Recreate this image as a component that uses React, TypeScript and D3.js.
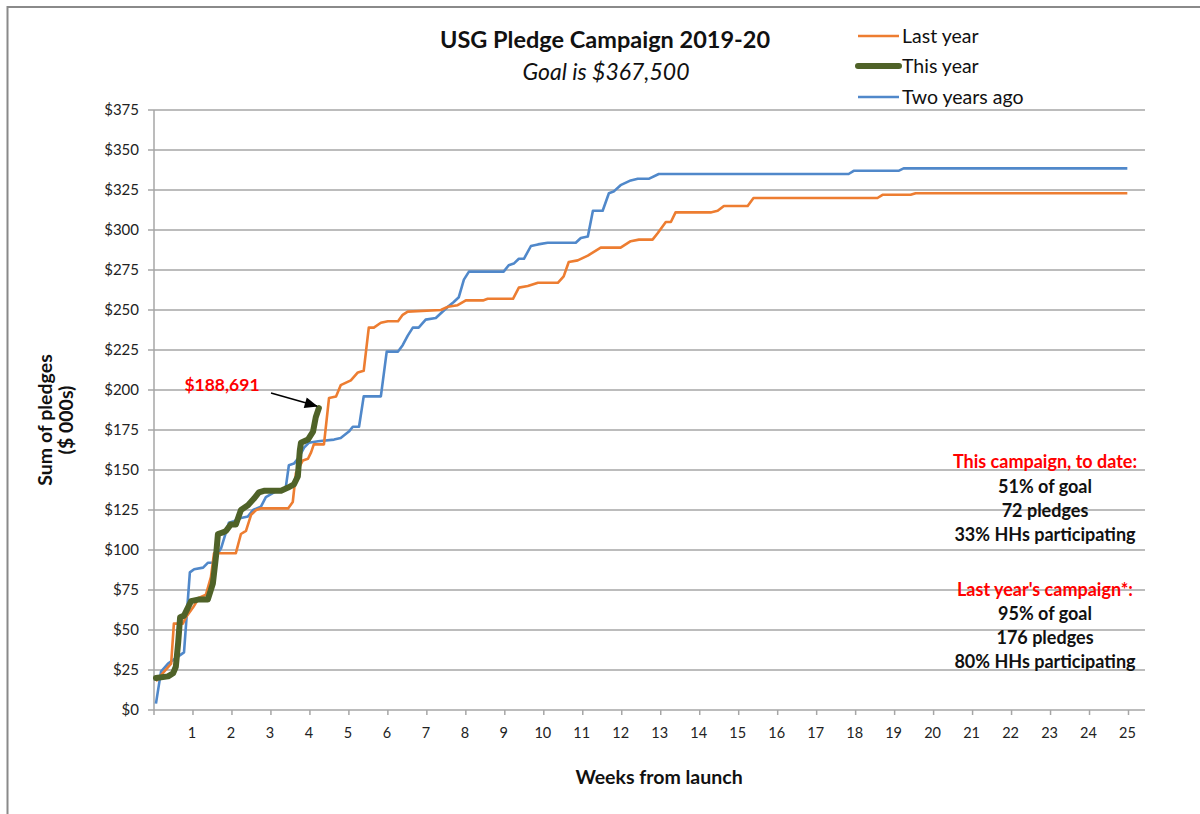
import React from "react";
import * as d3 from "d3";

// ---- Data (weeks from launch, $000s) ----
const lastYearWeeks = [0.05,0.26,0.44,0.51,0.74,0.82,1.0,1.15,1.33,1.46,1.54,2.1,2.23,2.36,2.49,2.62,2.74,3.44,3.56,3.64,3.82,3.95,4.03,4.1,4.36,4.49,4.67,4.79,5.05,5.23,5.38,5.51,5.64,5.82,6.0,6.26,6.38,6.51,7.36,7.54,7.79,8.0,8.44,8.56,9.21,9.36,9.59,9.85,10.36,10.51,10.64,10.87,11.13,11.46,11.97,12.23,12.44,12.79,12.92,13.13,13.26,13.38,14.28,14.46,14.62,15.23,15.38,18.56,18.69,19.41,19.54,24.97];
const lastYearValues = [18,24,29,54,54,58,64,70,72,83,98,98,110,112,122,125,126,126,130,148,156,157,161,166,166,195,196,203,206,211,212,239,239,242,243,243,247,249,250,252,253,256,256,257,257,264,265,267,267,271,280,281,284,289,289,293,294,294,298,305,305,311,311,312,315,315,320,320,322,322,323,323];

const thisYearWeeks = [0.05,0.36,0.49,0.56,0.62,0.67,0.77,0.87,0.95,1.13,1.38,1.51,1.59,1.64,1.77,1.85,1.97,2.1,2.23,2.41,2.56,2.69,2.82,3.26,3.44,3.59,3.69,3.74,3.77,3.95,4.08,4.15,4.23];
const thisYearValues = [20,21,23,27,42,58,59,64,68,69,69,79,96,110,111,112,116,116,125,128,132,136,137,137,139,141,146,162,167,169,174,183,188.691];

const twoYearsWeeks = [0.05,0.18,0.36,0.77,0.92,1.03,1.26,1.38,1.51,1.64,1.72,1.92,2.05,2.23,2.41,2.54,2.74,2.87,3.08,3.38,3.46,3.59,3.72,3.85,3.97,4.21,4.62,4.79,5.0,5.1,5.26,5.38,5.82,5.97,6.26,6.38,6.51,6.64,6.79,6.97,7.23,7.36,7.54,7.69,7.82,7.95,8.08,8.97,9.1,9.23,9.36,9.49,9.67,9.85,10.1,10.82,10.95,11.13,11.26,11.51,11.67,11.79,11.97,12.23,12.41,12.69,12.95,17.82,17.95,19.1,19.23,24.97];
const twoYearsValues = [4,24,29,36,86,88,89,92,92,98,101,117,118,120,121,125,127,133,136,139,153,154,158,164,167,168,169,170,174,177,177,196,196,224,224,228,234,239,239,244,245,248,252,255,258,269,274,274,278,279,282,282,290,291,292,292,295,296,312,312,323,324,328,331,332,332,335,335,337,337,338.5,338.5];

const yTicks = [0,25,50,75,100,125,150,175,200,225,250,275,300,325,350,375];
const xTicks = d3.range(0, 26);

const seriesNames = ["Last year", "This year", "Two years ago"];
const calloutLabel = "$188,691";
const thisCampaign = ["51% of goal", "72 pledges", "33% HHs participating"];
const lastCampaign = ["95% of goal", "176 pledges", "80% HHs participating"];

const FONT = "Lato, 'Open Sans', sans-serif";
const ORANGE = "#ED7D31";
const BLUE = "#5088CA";
const GREEN = "#4F6228";

export default function App() {
  const x = d3.scaleLinear().domain([0, 25]).range([154, 1128.5]);
  const y = d3.scaleLinear().domain([0, 375]).range([710, 110]);
  const xRight = 1145;

  const line = d3
    .line<[number, number]>()
    .x((d) => x(d[0]))
    .y((d) => y(d[1]));

  const zip = (a: number[], b: number[]) => a.map((w, i) => [w, b[i]] as [number, number]);
  const lastYear = zip(lastYearWeeks, lastYearValues);
  const thisYear = zip(thisYearWeeks, thisYearValues);
  const twoYears = zip(twoYearsWeeks, twoYearsValues);

  const endPt = thisYear[thisYear.length - 1];
  const ex = x(endPt[0]);
  const ey = y(endPt[1]);

  const legendY = [36, 66, 97];
  const legendColors = [ORANGE, GREEN, BLUE];
  const legendWidths = [2.5, 6, 2.5];

  return (
    <svg
      width={1200}
      height={814}
      style={{ position: "absolute", left: 0, top: 0, background: "#fff" }}
      fontFamily={FONT}
    >
      <defs>
        <marker id="arrowH" viewBox="0 0 12 10" refX="11" refY="5" markerWidth="14" markerHeight="11" orient="auto" markerUnits="userSpaceOnUse">
          <path d="M0,0 L12,5 L0,10 z" fill="#000" />
        </marker>
      </defs>
      {/* frame */}
      <path d="M7.5,814 L7.5,7 L1200,7" fill="none" stroke="#8a8a8a" strokeWidth={2} />

      {/* gridlines */}
      {yTicks.map((t) => (
        <line key={"g" + t} x1={x(0)} x2={xRight} y1={y(t)} y2={y(t)} stroke="#a6a6a6" strokeWidth={1.5} />
      ))}
      {/* y axis */}
      <line x1={x(0)} x2={x(0)} y1={y(375)} y2={y(0)} stroke="#a6a6a6" strokeWidth={1.5} />
      {yTicks.map((t) => (
        <g key={"yt" + t}>
          <line x1={x(0) - 6} x2={x(0)} y1={y(t)} y2={y(t)} stroke="#a6a6a6" strokeWidth={1.5} />
          <text x={139} y={y(t)} dy="0.35em" textAnchor="end" fontSize={15} fill="#222">
            {"$" + t}
          </text>
        </g>
      ))}
      {/* x axis */}
      {xTicks.map((t) => (
        <g key={"xt" + t}>
          <line x1={x(t)} x2={x(t)} y1={y(0)} y2={y(0) + 5} stroke="#a6a6a6" strokeWidth={1.5} />
          {t > 0 && (
            <text x={x(t) - 1} y={738} textAnchor="middle" fontSize={14.5} fill="#222">
              {t}
            </text>
          )}
        </g>
      ))}

      {/* series */}
      <path d={line(twoYears) || ""} fill="none" stroke={BLUE} strokeWidth={2.6} strokeLinejoin="round" />
      <path d={line(lastYear) || ""} fill="none" stroke={ORANGE} strokeWidth={2.6} strokeLinejoin="round" />
      <path d={line(thisYear) || ""} fill="none" stroke={GREEN} strokeWidth={6} strokeLinejoin="round" strokeLinecap="round" />

      {/* callout */}
      <text x={222} y={391} textAnchor="middle" fontSize={17.5} fontWeight="bold" fill="#ff0000">
        {calloutLabel}
      </text>
      <line x1={271} y1={393} x2={ex - 2} y2={ey - 2} stroke="#000" strokeWidth={1.5} markerEnd="url(#arrowH)" />

      {/* title */}
      <text x={605} y={48} textAnchor="middle" fontSize={23.5} fontWeight="bold" fill="#111">
        USG Pledge Campaign 2019-20
      </text>
      <text x={606} y={80} textAnchor="middle" fontSize={23} fontStyle="italic" fill="#111">
        Goal is $367,500
      </text>

      {/* legend */}
      {seriesNames.map((n, i) => (
        <g key={n}>
          <line x1={858} x2={899} y1={legendY[i]} y2={legendY[i]} stroke={legendColors[i]} strokeWidth={legendWidths[i]} strokeLinecap={i === 1 ? "round" : "butt"} />
          <text x={902} y={legendY[i]} dy="0.35em" fontSize={19.5} fill="#111">
            {n}
          </text>
        </g>
      ))}

      {/* axis titles */}
      <text x={659} y={784} textAnchor="middle" fontSize={19.5} fontWeight="bold" fill="#111">
        Weeks from launch
      </text>
      <g transform="translate(52,420) rotate(-90)">
        <text x={0} y={0} textAnchor="middle" fontSize={19.5} fontWeight="bold" fill="#111">
          Sum of pledges
        </text>
        <text x={0} y={21} textAnchor="middle" fontSize={19.5} fontWeight="bold" fill="#111">
          ($ 000s)
        </text>
      </g>

      {/* stats */}
      <g fontSize={18} fontWeight="bold" textAnchor="middle">
        <text x={1045} y={468} fill="#ff0000">This campaign, to date:</text>
        {thisCampaign.map((s, i) => (
          <text key={s} x={1045} y={493 + i * 24} fill="#111">{s}</text>
        ))}
        <text x={1045} y={596} fill="#ff0000">Last year's campaign*:</text>
        {lastCampaign.map((s, i) => (
          <text key={s} x={1045} y={620 + i * 24} fill="#111">{s}</text>
        ))}
      </g>
    </svg>
  );
}
